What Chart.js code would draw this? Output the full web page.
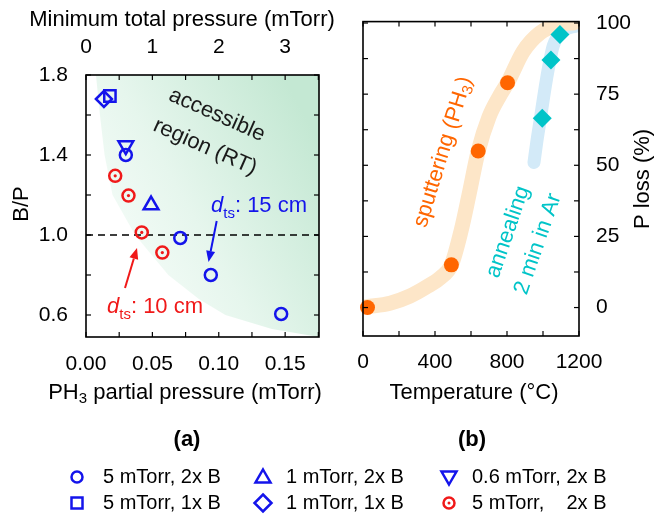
<!DOCTYPE html>
<html>
<head>
<meta charset="utf-8">
<script src="https://cdn.jsdelivr.net/npm/chart.js@4.4.1/dist/chart.umd.min.js"></script>
<style>
  html, body { margin: 0; padding: 0; background: #fff; }
  #wrap { position: relative; width: 667px; height: 514px; }
  #wrap canvas { position: absolute; left: 0; top: 0; }
</style>
</head>
<body>
<div id="wrap">
  <canvas id="chartA" width="667" height="514"></canvas>
  <canvas id="chartB" width="667" height="514"></canvas>
</div>
<script>
// ---------- (a) B/P vs PH3 partial pressure ----------
const circX = [0.030, 0.071, 0.094, 0.147];
const circY = [1.40, 0.985, 0.80, 0.605];
const squareX = [0.018];
const squareY = [1.695];
const diamondX = [0.0135];
const diamondY = [1.68];
const triX = [0.049];
const triY = [1.15];
const invTriX = [0.030];
const invTriY = [1.447];
const redX = [0.022, 0.032, 0.042, 0.0575];
const redY = [1.296, 1.197, 1.013, 0.912];
// edge of the shaded "accessible region"
const regionX = [0.0075, 0.0105, 0.014, 0.020, 0.037, 0.062, 0.085, 0.105, 0.14, 0.176];
const regionY = [1.80, 1.60, 1.40, 1.20, 1.00, 0.80, 0.68, 0.60, 0.53, 0.49];
const refX = [0, 0.18];
const refY = [1.0, 1.0];

const xTicksA = [0, 0.025, 0.05, 0.075, 0.10, 0.125, 0.15, 0.175];
const xLabelsA = ['0.00', '', '0.05', '', '0.10', '', '0.15', ''];
const x2TicksA = [0, 0.5, 1, 1.5, 2, 2.5, 3, 3.5];
const x2LabelsA = ['0', '', '1', '', '2', '', '3', ''];
const yTicksA = [0.6, 0.8, 1.0, 1.2, 1.4, 1.6, 1.8];
const yLabelsA = ['0.6', '', '1.0', '', '1.4', '', '1.8'];

// ---------- (b) P loss vs temperature ----------
const sputT = [25, 491, 640, 803];
const sputLoss = [0, 15, 55, 79];
const annT = [996, 1044, 1094];
const annLoss = [66.5, 87, 96];
const sputCurveT = [20, 150, 260, 360, 430, 491, 545, 590, 640, 700, 760, 803, 890, 983, 1094, 1170];
const sputCurveLoss = [0.3, 1.5, 4, 7.5, 10.5, 15, 27, 40, 55, 67, 74.5, 79, 90, 96.5, 99.6, 100];
const annCurveT = [950, 965, 983, 1020, 1057, 1113, 1190];
const annCurveLoss = [51, 58, 65.4, 80.5, 92, 97.3, 99];

const xTicksB = [0, 200, 400, 600, 800, 1000, 1200];
const xLabelsB = ['0', '', '400', '', '800', '', '1200'];
const yTicksB = [0, 12.5, 25, 37.5, 50, 62.5, 75, 87.5, 100];
const yLabelsB = ['0', '', '25', '', '50', '', '75', '', '100'];

const legendLabels = ['5 mTorr, 2x B', '1 mTorr, 2x B', '0.6 mTorr, 2x B',
                      '5 mTorr, 1x B', '1 mTorr, 1x B', '5 mTorr,    2x B'];

const FONT = "'Liberation Sans', Arial, sans-serif";
const BLUE = 'rgb(20,20,235)';
const RED = 'rgb(240,25,25)';
const ORANGE = '#ff6600';
const CYAN = '#00c4c8';

Chart.defaults.font.family = FONT;
Chart.defaults.font.size = 21;
Chart.defaults.color = '#000';

const xy = (xs, ys) => xs.map((x, i) => ({ x: x, y: ys[i] }));

function axis(min, max, vals, labels, pos, fit, pad) {
  return {
    type: 'linear', position: pos, min: min, max: max,
    grid: { display: false }, border: { display: false },
    afterBuildTicks: s => { s.ticks = vals.map(v => ({ value: v })); },
    afterFit: s => { if (pos === 'top' || pos === 'bottom') s.height = fit; else s.width = fit; },
    ticks: { autoSkip: false, maxRotation: 0, padding: pad, callback: (v, i) => labels[i] }
  };
}

// frame + inward tick marks
const frameTicks = {
  id: 'frameTicks',
  afterDatasetsDraw(chart, args, opts) {
    const { ctx, chartArea: a } = chart;
    const TL = 5;
    ctx.save();
    ctx.strokeStyle = '#000';
    ctx.lineWidth = 1.2;
    opts.marks.forEach(([id, sides]) => {
      const s = chart.scales[id];
      s.ticks.forEach(t => {
        const p = s.getPixelForValue(t.value);
        sides.forEach(side => {
          ctx.beginPath();
          if (side === 'top') { ctx.moveTo(p, a.top); ctx.lineTo(p, a.top + TL); }
          if (side === 'bottom') { ctx.moveTo(p, a.bottom); ctx.lineTo(p, a.bottom - TL); }
          if (side === 'left') { ctx.moveTo(a.left, p); ctx.lineTo(a.left + TL, p); }
          if (side === 'right') { ctx.moveTo(a.right, p); ctx.lineTo(a.right - TL, p); }
          ctx.stroke();
        });
      });
    });
    ctx.lineWidth = 1.6;
    ctx.strokeRect(a.left, a.top, a.right - a.left, a.bottom - a.top);
    ctx.restore();
  }
};

// text made of pieces (italic, subscript ...)
function rich(ctx, parts, x, y, angle, align, baseline) {
  ctx.save();
  ctx.translate(x, y);
  ctx.rotate(angle * Math.PI / 180);
  ctx.textAlign = 'left';
  ctx.textBaseline = baseline || 'middle';
  let w = 0;
  parts.forEach(p => { ctx.font = p.font; p.w = ctx.measureText(p.text).width; w += p.w; });
  let cx = align === 'left' ? 0 : -w / 2;
  parts.forEach(p => {
    ctx.font = p.font;
    ctx.fillStyle = p.color || '#000';
    ctx.fillText(p.text, cx, p.dy || 0);
    cx += p.w;
  });
  ctx.restore();
}
const txt = (s, size, color, style) => ({ text: s, font: (style || '') + ' ' + size + 'px ' + FONT, color: color });
const sub = (s, size, color) => ({ text: s, font: size + 'px ' + FONT, color: color, dy: 6 });

function arrow(ctx, x1, y1, x2, y2, color) {
  const ang = Math.atan2(y2 - y1, x2 - x1);
  const L = 11, W = 4.5;
  const bx = x2 - L * Math.cos(ang), by = y2 - L * Math.sin(ang);
  ctx.save();
  ctx.strokeStyle = color; ctx.fillStyle = color; ctx.lineWidth = 2;
  ctx.beginPath(); ctx.moveTo(x1, y1); ctx.lineTo(bx, by); ctx.stroke();
  ctx.beginPath();
  ctx.moveTo(x2, y2);
  ctx.lineTo(bx + W * Math.sin(ang), by - W * Math.cos(ang));
  ctx.lineTo(bx - W * Math.sin(ang), by + W * Math.cos(ang));
  ctx.closePath(); ctx.fill();
  ctx.restore();
}

function marker(ctx, kind, x, y, color) {
  ctx.save();
  ctx.strokeStyle = color; ctx.fillStyle = color; ctx.lineWidth = 2.5;
  ctx.beginPath();
  if (kind === 'circle' || kind === 'dot') ctx.arc(x, y, 5.5, 0, Math.PI * 2);
  if (kind === 'square') ctx.rect(x - 5.5, y - 5.5, 11, 11);
  if (kind === 'tri') { ctx.moveTo(x, y - 7.5); ctx.lineTo(x + 7.5, y + 5.5); ctx.lineTo(x - 7.5, y + 5.5); ctx.closePath(); }
  if (kind === 'inv') { ctx.moveTo(x, y + 7.5); ctx.lineTo(x + 7.5, y - 5.5); ctx.lineTo(x - 7.5, y - 5.5); ctx.closePath(); }
  if (kind === 'diamond') { ctx.moveTo(x, y - 8.5); ctx.lineTo(x + 8.5, y); ctx.lineTo(x, y + 8.5); ctx.lineTo(x - 8.5, y); ctx.closePath(); }
  ctx.stroke();
  if (kind === 'dot') { ctx.beginPath(); ctx.arc(x, y, 1.5, 0, Math.PI * 2); ctx.fill(); }
  ctx.restore();
}

const textA = {
  id: 'textA',
  afterDraw(chart) {
    const ctx = chart.ctx;
    rich(ctx, [txt('Minimum total pressure (mTorr)', 22)], 182, 20, 0);
    rich(ctx, [txt('B/P', 22)], 22, 204, -90);
    rich(ctx, [txt('PH', 22), sub('3', 15), txt(' partial pressure (mTorr)', 22)], 185, 393, 0);
    rich(ctx, [txt('Temperature (\u00b0C)', 22)], 474, 393, 0);
    rich(ctx, [txt('(a)', 22, '#000', 'bold')], 187, 440, 0);
    rich(ctx, [txt('(b)', 22, '#000', 'bold')], 472, 440, 0);
    rich(ctx, [txt('accessible', 22, '#1a1a1a')], 217, 115, 24);
    rich(ctx, [txt('region (RT)', 22, '#1a1a1a')], 205, 147, 24);
    rich(ctx, [txt('d', 22, BLUE, 'italic'), sub('ts', 15, BLUE), txt(': 15 cm', 22, BLUE)], 211, 212, 0, 'left', 'alphabetic');
    rich(ctx, [txt('d', 22, RED, 'italic'), sub('ts', 15, RED), txt(': 10 cm', 22, RED)], 107, 313, 0, 'left', 'alphabetic');
    arrow(ctx, 216.7, 221, 208.5, 262, BLUE);
    arrow(ctx, 125, 288, 137, 248, RED);
    // legend
    const kinds = ['circle', 'tri', 'inv', 'square', 'diamond', 'dot'];
    const mx = [77, 263, 449], tx = [103, 286, 472], ry = [477, 503];
    kinds.forEach((k, i) => {
      const c = i % 3, r = Math.floor(i / 3);
      marker(ctx, k, mx[c], ry[r], k === 'dot' ? RED : BLUE);
      rich(ctx, [txt(legendLabels[i], 20)], tx[c], ry[r], 0, 'left');
    });
  }
};

const textB = {
  id: 'textB',
  afterDraw(chart) {
    const ctx = chart.ctx;
    rich(ctx, [txt('P loss (%)', 22)], 643, 179, -90);
    rich(ctx, [txt('sputtering (PH', 22, ORANGE), sub('3', 15, ORANGE), txt(')', 22, ORANGE)], 443, 152, -73);
    rich(ctx, [txt('annealing', 22, CYAN)], 508, 232, -71);
    rich(ctx, [txt('2 min in Ar', 22, CYAN)], 538, 244, -71);
  }
};

function regionFill(c) {
  const a = c.chart.chartArea;
  if (!a) return 'rgba(0,0,0,0)';
  const h = a.bottom - a.top;
  const g = c.chart.ctx.createLinearGradient(a.left, a.top + h * 0.75, a.right, a.top + h * 0.25);
  g.addColorStop(0, 'rgb(250,254,252)');
  g.addColorStop(0.45, 'rgb(230,246,237)');
  g.addColorStop(1, 'rgb(196,232,211)');
  return g;
}

new Chart(document.getElementById('chartA'), {
  type: 'line',
  data: {
    datasets: [
      { data: xy(regionX, regionY), borderWidth: 0, pointRadius: 0, fill: 'end',
        backgroundColor: regionFill, order: 10 },
      { data: xy(refX, refY), borderColor: '#000', borderWidth: 1.3, borderDash: [7, 5],
        pointRadius: 0, fill: false, order: 9 },
      { data: xy(circX, circY), showLine: false, pointStyle: 'circle', pointRadius: 6,
        pointBorderWidth: 2.5, borderColor: BLUE, backgroundColor: 'rgba(0,0,0,0)' },
      { data: xy(squareX, squareY), showLine: false, pointStyle: 'rect', pointRadius: 8,
        pointBorderWidth: 2.5, borderColor: BLUE, backgroundColor: 'rgba(0,0,0,0)' },
      { data: xy(diamondX, diamondY), showLine: false, pointStyle: 'rectRot', pointRadius: 8,
        pointBorderWidth: 2.5, borderColor: BLUE, backgroundColor: 'rgba(0,0,0,0)' },
      { data: xy(triX, triY), showLine: false, pointStyle: 'triangle', pointRadius: 8.5,
        pointBorderWidth: 2.5, borderColor: BLUE, backgroundColor: 'rgba(0,0,0,0)' },
      { data: xy(invTriX, invTriY), showLine: false, pointStyle: 'triangle', pointRotation: 180,
        pointRadius: 8.5, pointBorderWidth: 2.5, borderColor: BLUE, backgroundColor: 'rgba(0,0,0,0)' },
      { data: xy(redX, redY), showLine: false, pointStyle: 'circle', pointRadius: 6,
        pointBorderWidth: 2.5, borderColor: RED, backgroundColor: 'rgba(0,0,0,0)' },
      { data: xy(redX, redY), showLine: false, pointStyle: 'circle', pointRadius: 1.6,
        pointBorderWidth: 0, borderColor: RED, backgroundColor: RED, pointBackgroundColor: RED }
    ]
  },
  options: {
    responsive: false, animation: false, events: [],
    layout: { padding: { left: 0, top: 0, right: 348, bottom: 0 } },
    scales: {
      x: axis(0, 0.1755, xTicksA, xLabelsA, 'bottom', 177, 7),
      x2: axis(0, 3.51, x2TicksA, x2LabelsA, 'top', 75, 7),
      y: axis(0.49, 1.8, yTicksA, yLabelsA, 'left', 86, 10)
    },
    plugins: {
      legend: { display: false }, tooltip: { enabled: false },
      frameTicks: { marks: [['x', ['bottom']], ['x2', ['top']], ['y', ['left', 'right']]] }
    }
  },
  plugins: [frameTicks, textA]
});

new Chart(document.getElementById('chartB'), {
  type: 'line',
  data: {
    datasets: [
      { data: xy(sputCurveT, sputCurveLoss), borderColor: '#fde6c8', borderWidth: 15,
        cubicInterpolationMode: 'monotone', pointRadius: 0, borderCapStyle: 'round',
        borderJoinStyle: 'round', clip: 0, order: 5 },
      { data: xy(annCurveT, annCurveLoss), borderColor: '#d3eaf8', borderWidth: 13,
        cubicInterpolationMode: 'monotone', pointRadius: 0, borderCapStyle: 'round',
        borderJoinStyle: 'round', clip: 0, order: 5 },
      { data: xy(sputT, sputLoss), showLine: false, pointStyle: 'circle', pointRadius: 7.5,
        pointBorderWidth: 0, backgroundColor: ORANGE, borderColor: ORANGE, clip: false },
      { data: xy(annT, annLoss), showLine: false, pointStyle: 'rectRot', pointRadius: 9.5,
        pointBorderWidth: 0, backgroundColor: CYAN, borderColor: CYAN, clip: false }
    ]
  },
  options: {
    responsive: false, animation: false, events: [],
    layout: { padding: { left: 363, top: 19, right: 0, bottom: 0 } },
    scales: {
      x: axis(0, 1200, xTicksB, xLabelsB, 'bottom', 178, 6),
      y: axis(-10, 100.5, yTicksB, yLabelsB, 'right', 88, 9)
    },
    plugins: {
      legend: { display: false }, tooltip: { enabled: false },
      frameTicks: { marks: [['x', ['bottom', 'top']], ['y', ['left', 'right']]] }
    }
  },
  plugins: [frameTicks, textB]
});
</script>
</body>
</html>
